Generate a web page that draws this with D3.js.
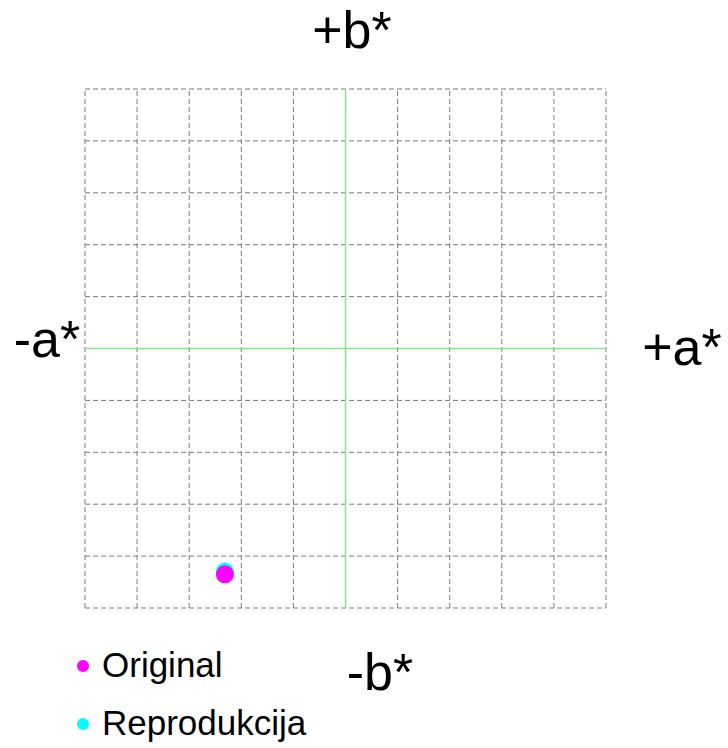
<!DOCTYPE html>
<html>
<head>
<meta charset="utf-8">
<script src="https://cdn.jsdelivr.net/npm/d3@7"></script>
<style>
  body { margin: 0; background: #fff; }
  text { font-family: "Liberation Sans", Arial, sans-serif; fill: #000; }
</style>
</head>
<body>
<svg id="chart" width="728" height="748"></svg>
<script>
// samples (a*, b*)
var series = ["Original", "Reprodukcija"];
var colors = ["#ff00ff", "#00ffff"];
var aValues = [-46.3, -46.3];
var bValues = [-87.0, -85.9];
var gridTicks = [-100, -80, -60, -40, -20, 0, 20, 40, 60, 80, 100];

var svg = d3.select("#chart");

// plot area
var x = d3.scaleLinear().domain([-100, 100]).range([85, 606]);
var y = d3.scaleLinear().domain([-100, 100]).range([608, 89]);

var grid = svg.append("g");
grid.selectAll(".vl").data(gridTicks).enter().append("line")
    .attr("x1", function(d) { return x(d); })
    .attr("x2", function(d) { return x(d); })
    .attr("y1", y(-100)).attr("y2", y(100))
    .attr("stroke", "#7a7a7a").attr("stroke-width", 1)
    .attr("stroke-dasharray", "5,3");
grid.selectAll(".hl").data(gridTicks).enter().append("line")
    .attr("y1", function(d) { return y(d); })
    .attr("y2", function(d) { return y(d); })
    .attr("x1", x(-100)).attr("x2", x(100))
    .attr("stroke", "#7a7a7a").attr("stroke-width", 1)
    .attr("stroke-dasharray", "5,3");

// axes through zero
svg.append("line")
    .attr("x1", x(0)).attr("x2", x(0)).attr("y1", y(-100)).attr("y2", y(100))
    .attr("stroke", "#8fe08f").attr("stroke-width", 1.5);
svg.append("line")
    .attr("y1", y(0)).attr("y2", y(0)).attr("x1", x(-100)).attr("x2", x(100))
    .attr("stroke", "#8fe08f").attr("stroke-width", 1.5);

// points: reproduction first, original on top
var order = [1, 0];
svg.selectAll(".pt").data(order).enter().append("circle")
    .attr("cx", function(i) { return x(aValues[i]); })
    .attr("cy", function(i) { return y(bValues[i]); })
    .attr("r", 9)
    .attr("fill", function(i) { return colors[i]; });

// axis labels
svg.append("text").attr("x", 352).attr("y", 48).attr("text-anchor", "middle")
    .attr("font-size", 52).text("+b*");
svg.append("text").attr("x", 380).attr("y", 690).attr("text-anchor", "middle")
    .attr("font-size", 52).text("-b*");
svg.append("text").attr("x", 47).attr("y", 357).attr("text-anchor", "middle")
    .attr("font-size", 52).text("-a*");
svg.append("text").attr("x", 682).attr("y", 365).attr("text-anchor", "middle")
    .attr("font-size", 52).text("+a*");

// legend
var leg = svg.selectAll(".leg").data(series).enter().append("g")
    .attr("transform", function(d, i) { return "translate(83," + (666 + i * 58) + ")"; });
leg.append("circle").attr("r", 6).attr("fill", function(d, i) { return colors[i]; });
leg.append("text").attr("x", 19).attr("y", 11).attr("font-size", 35).text(function(d) { return d; });
</script>
</body>
</html>
